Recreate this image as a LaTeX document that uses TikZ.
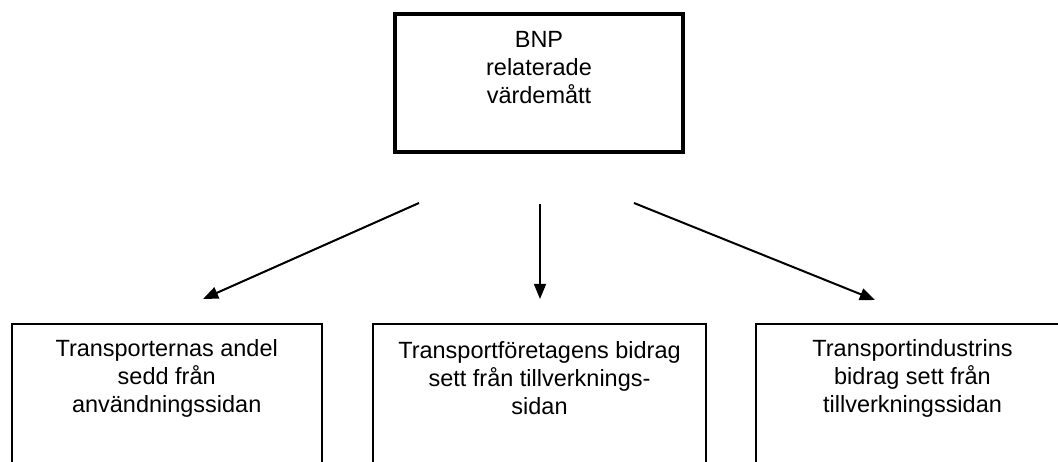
\documentclass[tikz,border=0pt]{standalone}
\usepackage{fontspec}
\setmainfont{Liberation Sans}
\usetikzlibrary{arrows.meta}

\begin{document}
\begin{tikzpicture}[
  x=0.025cm, y=-0.025cm,
  topbox/.style={rectangle, draw=black, line width=0.1cm, minimum width=7.2cm,
                 minimum height=3.45cm, inner sep=0pt},
  subbox/.style={rectangle, draw=black, line width=0.05cm, minimum height=5cm,
                 inner sep=0pt},
  txt/.style={align=center, inner sep=0pt, font=\fontsize{16.7}{19.9}\selectfont},
  arr/.style={draw=black, line width=0.05cm, -{Triangle[length=0.38cm, width=0.3cm]}},
]
\clip (0,0) rectangle (1058,461);
\useasboundingbox (0,0) rectangle (1058,461);
% measure at the top
\node[topbox] (bnp) at (539,83) {};
\node[txt] (bnp_text) at (539,68) {BNP\\relaterade\\värdemått};
% the three views, cut off at the bottom edge
\node[subbox, minimum width=7.75cm] (use_side) at (166.7,424) {};
\node[subbox, minimum width=8.325cm] (firm_side) at (539.5,424) {};
\node[subbox, minimum width=7.825cm] (ind_side) at (912.5,424) {};
\node[txt] (use_text) at (166.7,378) {Transporternas andel\\sedd från\\användningssidan};
\node[txt] (firm_text) at (539.5,378) {Transportföretagens bidrag\\sett från tillverknings-\\sidan};
\node[txt] (ind_text) at (912.5,378) {Transportindustrins\\bidrag sett från\\tillverkningssidan};
% free-standing arrows between the boxes
\coordinate (use_from) at (419,203);
\coordinate (use_to) at (203,299);
\coordinate (firm_from) at (540,204);
\coordinate (firm_to) at (540,299);
\coordinate (ind_from) at (634,203);
\coordinate (ind_to) at (875,300);
\draw[arr] (use_from) -- (use_to);
\draw[arr] (firm_from) -- (firm_to);
\draw[arr] (ind_from) -- (ind_to);
\end{tikzpicture}
\end{document}
